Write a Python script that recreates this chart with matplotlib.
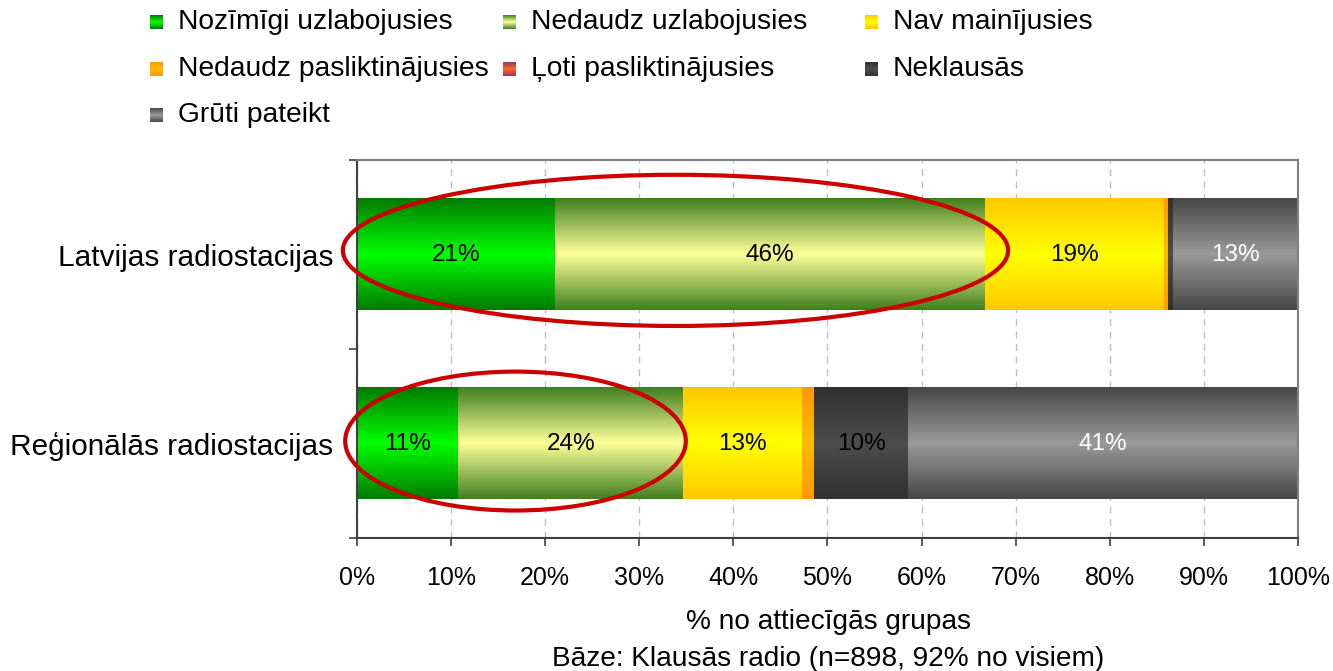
import numpy as np
import matplotlib.pyplot as plt
from matplotlib.colors import LinearSegmentedColormap
from matplotlib.patches import Ellipse, Rectangle

plt.rcParams['font.family'] = ['Liberation Sans', 'DejaVu Sans']

# data
groups = ['Latvijas radiostacijas', 'Reģionālās radiostacijas']
series = ['Nozīmīgi uzlabojusies', 'Nedaudz uzlabojusies', 'Nav mainījusies',
          'Nedaudz pasliktinājusies', 'Ļoti pasliktinājusies', 'Neklausās',
          'Grūti pateikt']
latvijas = [21.0, 45.7, 19.1, 0.4, 0.0, 0.5, 13.3]
regionalas = [10.7, 24.0, 12.6, 1.3, 0.0, 10.0, 41.4]
labels_lat = ['21%', '46%', '19%', '', '', '', '13%']
labels_reg = ['11%', '24%', '13%', '', '', '10%', '41%']

# gradient colours: (edge, centre)
grad = [('#007a00', '#00ff00'),
        ('#3f7f1f', '#ffff99'),
        ('#ffc800', '#ffff00'),
        ('#ff9900', '#ffbb00'),
        ('#993366', '#ff6620'),
        ('#303030', '#4d4d4d'),
        ('#474747', '#9a9a9a')]
text_col = ['black', 'black', 'black', 'black', 'black', 'black', 'white']

fig = plt.figure(figsize=(13.33, 6.71), dpi=100)
ax = fig.add_axes([0.2678, 0.1982, 0.7059, 0.5633])

ypos = [1, 0]
values = [latvijas, regionalas]
labels = [labels_lat, labels_reg]

cmaps = []
for e, c in grad:
    cmaps.append(LinearSegmentedColormap.from_list('g', [e, c, e]))
g = np.linspace(0, 1, 256).reshape(-1, 1)

for yi, vals, labs in zip(ypos, values, labels):
    left = 0
    for k, v in enumerate(vals):
        bars = ax.barh(yi, v, left=left, height=0.59, color='none', linewidth=0)
        if v > 0:
            b = bars[0].get_bbox()
            ax.imshow(g, cmap=cmaps[k], aspect='auto', interpolation='bilinear',
                      extent=[b.x0, b.x1, b.y0, b.y1], zorder=2)
        if labs[k]:
            ax.text(left + v / 2, yi, labs[k], ha='center', va='center',
                    fontsize=17.5, color=text_col[k], zorder=4)
        left += v

# red ellipses around improved shares
e1 = sum(latvijas[:2])
e2 = sum(regionalas[:2])
ax.add_patch(Ellipse((e1 / 2 + 0.5, 1.022), e1 + 4.0, 0.80, fill=False,
                     edgecolor='#cc0000', linewidth=3, zorder=5, clip_on=False))
ax.add_patch(Ellipse((e2 / 2 - 0.5, 0.013), e2 + 1.5, 0.735, fill=False,
                     edgecolor='#cc0000', linewidth=3, zorder=5, clip_on=False))

ax.set_xlim(0, 100)
ax.set_ylim(-0.5, 1.5)
ax.set_xticks(np.arange(0, 101, 10))
ax.set_xticklabels([f'{t}%' for t in range(0, 101, 10)], fontsize=18)
ax.set_yticks([-0.5, 0.5, 1.5])
ax.set_yticklabels([])
ax.set_yticks(ypos, minor=True)
ax.set_yticklabels(groups, minor=True, fontsize=21.4)
ax.tick_params(axis='y', which='minor', length=0, pad=17)
ax.tick_params(axis='y', which='major', length=6, color='#404040', width=1.2)
ax.tick_params(axis='x', length=6, color='#404040', width=1.2, pad=14)
ax.grid(axis='x', linestyle=(0, (5, 4)), color='#c0c0c0', linewidth=1, zorder=0)
ax.set_axisbelow(True)
for s in ['left', 'bottom']:
    ax.spines[s].set_color('#404040')
    ax.spines[s].set_linewidth(1.5)
for s in ['top', 'right']:
    ax.spines[s].set_color('#808080')
    ax.spines[s].set_linewidth(1.5)

fig.text(0.6215, 1 - 622 / 671, '% no attiecīgās grupas', ha='center', va='center',
         fontsize=20.2)
fig.text(0.6215, 1 - 659 / 671, 'Bāze: Klausās radio (n=898, 92% no visiem)',
         ha='center', va='center', fontsize=20.2)

# legend, 3 columns with gradient squares
col_x = [150, 503, 865]
row_y = [22, 69, 115]
for i, name in enumerate(series):
    r, c = divmod(i, 3)
    x0 = col_x[c] / 1333
    yc = 1 - row_y[r] / 671
    w = 13 / 1333
    h = 14 / 671
    cm = cmaps[i]
    nstrip = 14
    for s in range(nstrip):
        fig.add_artist(Rectangle((x0, yc - h / 2 + s * h / nstrip), w, h / nstrip,
                                 transform=fig.transFigure,
                                 facecolor=cm((s + 0.5) / nstrip), linewidth=0))
    fig.text(x0 + 28 / 1333, yc, name, ha='left', va='center', fontsize=20.3)

plt.savefig('out.png', dpi=100)
plt.close()
